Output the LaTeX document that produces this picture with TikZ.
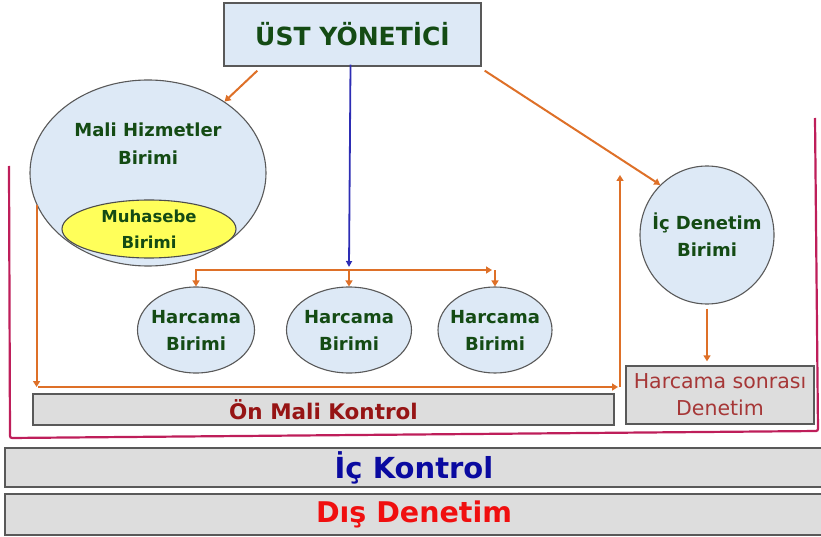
\documentclass[tikz,border=0pt]{standalone}
\usepackage{fontspec}
\setmainfont{DejaVu Sans}
\usepackage{tikz}
\usetikzlibrary{arrows.meta, shapes.geometric}
\definecolor{myblue}{RGB}{45, 45, 180}
\definecolor{myorange}{RGB}{222, 112, 40}
\definecolor{mymagenta}{RGB}{190, 30, 90}
\definecolor{mygreen}{RGB}{20, 75, 20}
\definecolor{myfill}{RGB}{221, 233, 246}
\definecolor{mygray}{RGB}{221, 221, 221}
\definecolor{myyellow}{RGB}{255, 255, 90}
\definecolor{mydarkred}{RGB}{150, 20, 20}
\definecolor{myred}{RGB}{240, 15, 15}
\definecolor{mynavy}{RGB}{10, 10, 160}

\begin{document}
\begin{tikzpicture}[x=1pt,y=-1pt,
    unit/.style={ellipse,draw=gray!70!black,fill=myfill,line width=1.1pt,
      text=mygreen,align=center,inner xsep=-16pt,inner ysep=-6pt,
      font=\bfseries\fontsize{18}{27}\selectfont},
    bar/.style={draw=gray!70!black,fill=mygray,line width=1.3pt,inner sep=0pt},
    oarr/.style={myorange,line width=2pt,-{Triangle[length=6pt,width=7pt]}}]
        \useasboundingbox (0,0) rectangle (821,537);
        % outer frame
        \draw[mymagenta,line width=2.2pt,rounded corners=2pt]
          (9,166)--(10,438)--(818,431)--(815,118);
        % boxes
        \node[bar,fill=myfill,minimum width=257,minimum height=63,text=mygreen,
          font=\bfseries\fontsize{25}{30}\selectfont] (ust) at (352.5,34.5){ÜST YÖNETİCİ};
        \node[unit,minimum width=236,minimum height=186] (mali) at (148,173){};
        \node[text=mygreen,align=center,font=\bfseries\fontsize{18}{28}\selectfont]
          (malitxt) at (148,144){Mali Hizmetler\\Birimi};
        \node[unit,fill=myyellow,draw=black!70,minimum width=174,minimum height=58,
          inner ysep=-8pt,font=\bfseries\fontsize{16.5}{26}\selectfont] (muh) at (149,229){Muhasebe\\Birimi};
        \node[unit,minimum width=134,minimum height=138] (icd) at (707,235){İç Denetim\\Birimi};
        \node[unit,minimum width=117,minimum height=86] (h1) at (196,330){Harcama\\Birimi};
        \node[unit,minimum width=125,minimum height=86] (h2) at (349,330){Harcama\\Birimi};
        \node[unit,minimum width=114,minimum height=86] (h3) at (495,330){Harcama\\Birimi};
        \node[bar,minimum width=581,minimum height=31,text=mydarkred,
          font=\bfseries\fontsize{21.5}{26}\selectfont] (onmali) at (323.5,409.5){Ön Mali Kontrol};
        \node[bar,minimum width=188,minimum height=58,align=center,text=mydarkred!85!white,
          font=\fontsize{20.5}{27}\selectfont] (sonra) at (720,395){Harcama sonrası\\Denetim};
        \node[bar,minimum width=818,minimum height=39,text=mynavy,
          font=\bfseries\fontsize{29}{34}\selectfont] (ick) at (414,467.5){İç Kontrol};
        \node[bar,minimum width=818,minimum height=41,text=myred,
          font=\bfseries\fontsize{28.5}{34}\selectfont] (dis) at (414,514.5){Dış Denetim};
        % arrows
        \coordinate (hub) at (349,270);
        \coordinate (bl) at (38,387);
        \coordinate (br) at (620,387);
        \coordinate (tr) at (620,175);
        \draw[oarr]([xshift=34pt,yshift=-4pt]ust.south west)--(mali.43);
        \draw[oarr]([xshift=3pt,yshift=-4pt]ust.south east)--(icd.133);
        \draw[myblue,line width=1.8pt,-{Triangle[length=6pt,width=6pt]}]
          ([xshift=-2pt,yshift=2pt]ust.south)--([yshift=3pt]hub);
        \draw[oarr](hub)-|(h1.north);
        \draw[oarr](hub)--(h2.north);
        \draw[oarr](hub)--([xshift=-3pt]h3.north|-hub);
        \draw[oarr](h3.north|-hub)--(h3.north);
        \draw[oarr](mali.196)--(mali.196|-bl);
        \draw[oarr](bl)--([xshift=-2pt]br);
        \draw[oarr](br)--(tr);
        \draw[oarr,shorten <=4pt,shorten >=4pt](icd.south)--(icd.south|-sonra.north);
      \end{tikzpicture}
\end{document}
